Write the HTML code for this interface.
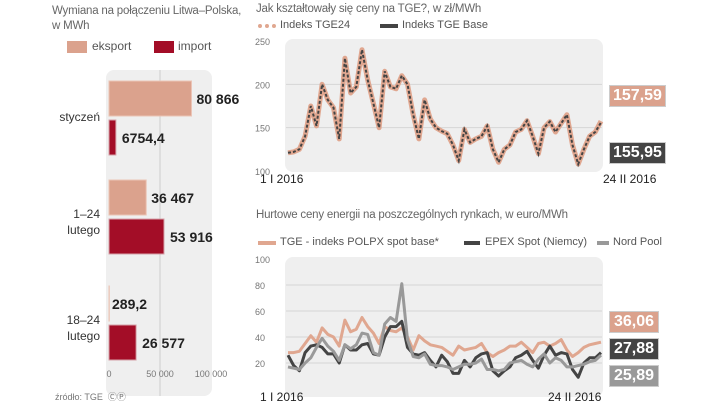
<!DOCTYPE html>
<html><head><meta charset="utf-8"><style>
body{margin:0;width:720px;height:406px;background:#fff;font-family:"Liberation Sans",sans-serif;overflow:hidden;position:relative}
.t{position:absolute;white-space:nowrap;color:#555}
svg{position:absolute;left:0;top:0}
</style></head><body>
<svg width="720" height="406" id="s"></svg>
<script>
const barCats=["styczeń","1–24\nlutego","18–24\nlutego"];
const exportVals=[80866,36467,289.2];
const importVals=[6754.4,53916,26577];
const exportLbl=["80 866","36 467","289,2"];
const importLbl=["6754,4","53 916","26 577"];
const tge24=[121,122,125,140,175,152,200,182,173,137,230,190,197,240,205,178,150,215,197,195,210,200,165,137,182,160,150,146,143,130,112,148,133,137,140,152,125,110,125,130,145,148,158,140,120,150,157,145,155,165,130,108,125,140,145,157.6];
const tgeBase=[121,122,125,140,175,152,200,182,173,137,230,190,197,240,205,178,150,215,197,195,210,200,165,137,182,160,150,146,143,130,112,148,133,137,140,152,125,110,125,130,145,148,158,140,120,150,157,145,155,165,130,108,125,140,145,156];
const topTicks=[100,150,200,250];
const polpx=[28,28,29,35,41,36,47,42,40,33,53,44,46,55,48,43,35,48,45,44,47,40,30,41,37,34,33,32,29,26,33,30,31,32,35,28,25,28,30,33,33,36,32,28,35,36,33,35,38,30,25,28,32,34,35,36];
const epex=[26,18,14,28,33,34,32,27,27,20,34,30,30,34,35,27,26,40,48,48,52,32,27,26,28,22,17,26,21,12,12,22,17,24,27,28,14,10,14,17,24,26,29,22,16,26,33,26,28,27,15,9,20,24,24,28];
const nord=[17,16,15,20,24,32,39,33,29,22,34,31,34,43,42,28,26,50,55,52,81,38,25,24,27,19,18,18,17,15,17,19,19,20,23,15,15,14,15,20,21,22,19,17,23,27,20,24,22,17,17,18,19,21,22,26];
const botTicks=[0,20,40,60,80,100];
const NS="http://www.w3.org/2000/svg",s=document.getElementById('s');
function el(t,a,txt){const e=document.createElementNS(NS,t);for(const k in a)e.setAttribute(k,a[k]);if(txt!==undefined)e.textContent=txt;s.appendChild(e);return e;}
const bx=v=>109+v*102/100000;
let e=el('rect',{x:106,y:70,width:106,height:326,rx:8,fill:'#efefef'});

el('line',{x1:160,y1:70,x2:160,y2:396,stroke:'#ccc'});
const groupY=[81,180,286];
barCats.forEach((c,i)=>{
 const y0=groupY[i];
 let r=el('rect',{x:109,y:y0,width:bx(exportVals[i])-109,height:35,fill:'#dba28d',stroke:'#ebc4b5'});
 
 r=el('rect',{x:109,y:y0+39,width:Math.max(bx(importVals[i])-109,2),height:35,fill:'#a30d27',stroke:'#d6a2a8'});
 
 const ex=i==2?112:bx(exportVals[i])+5;
 el('text',{x:ex,y:y0+23,'font-size':14,'font-weight':'bold',fill:'#222'},exportLbl[i]);
 el('text',{x:Math.max(bx(importVals[i]),113)+6,y:y0+62,'font-size':14,'font-weight':'bold',fill:'#222'},importLbl[i]);
 const ls=c.split('\n');
 ls.forEach((l,j)=>el('text',{x:100,y:y0+(ls.length==1?40:46)+j*16-(ls.length-1)*8,'font-size':12,fill:'#333','text-anchor':'end'},l));
});
[[0,'0'],[50000,'50 000'],[100000,'100 000']].forEach(([v,l])=>el('text',{x:bx(v),y:377,'font-size':9,fill:'#777','text-anchor':'middle'},l));
const X=(i,n)=>288+i*(313/(n-1));
const ty=v=>171-(v-100)*130/150;
e=el('rect',{x:285,y:39,width:318,height:133,rx:8,fill:'#efefef'});

topTicks.forEach(v=>{if(v>100&&v<250)el('line',{x1:286,x2:602,y1:ty(v),y2:ty(v),stroke:'#d6d6d6'});el('text',{x:255,y:ty(v)+4,'font-size':9,fill:'#777'},v);});
const path=(arr,fy)=>arr.map((v,i)=>(i?'L':'M')+X(i,arr.length).toFixed(1)+' '+fy(v).toFixed(1)).join(' ');
e=el('path',{d:path(tge24,ty),fill:'none',stroke:'#e0a790',"stroke-width":5,"stroke-linejoin":'round'});

e=el('path',{d:path(tgeBase,ty),fill:'none',stroke:'#444',"stroke-width":2,"stroke-dasharray":'3 2'});

const by=v=>389-v*1.3;
e=el('rect',{x:285,y:257,width:318,height:140,rx:8,fill:'#efefef'});

botTicks.forEach(v=>{if(v>0&&v<100)el('line',{x1:286,x2:602,y1:by(v),y2:by(v),stroke:'#d6d6d6'});if(v>0)el('text',{x:255,y:by(v)+4,'font-size':9,fill:'#777'},v);});
[[polpx,'#e0a790','line-polpx'],[epex,'#444','line-epex'],[nord,'#999','line-nord-pool']].forEach(([a,c,n])=>{
 const p=el('path',{d:path(a,by),fill:'none',stroke:c,"stroke-width":3,"stroke-linejoin":'round'});
 
});
</script>
<div class="t" style="left:52px;top:4px;font-size:11.5px;line-height:15px;color:#666;letter-spacing:-0.2px">Wymiana na połączeniu Litwa–Polska,<br>w MWh</div>
<div style="position:absolute;left:67px;top:41px;width:20px;height:12px;background:#dba28d"></div>
<div class="t" style="left:92px;top:39px;font-size:12px">eksport</div>
<div style="position:absolute;left:154px;top:41px;width:20px;height:12px;background:#a30d27"></div>
<div class="t" style="left:178px;top:39px;font-size:12px">import</div>
<div class="t" style="left:55px;top:390px;font-size:9px;color:#777">źródło: TGE &nbsp;ⒸⓅ</div>
<div class="t" style="left:256px;top:3px;font-size:11.5px;color:#666;letter-spacing:-0.2px">Jak kształtowały się ceny na TGE?, w zł/MWh</div>
<div style="position:absolute;left:258px;top:24px;width:18px;border-top:4px dotted #e0a790"></div>
<div class="t" style="left:280px;top:19px;font-size:11px">Indeks TGE24</div>
<div style="position:absolute;left:380px;top:24px;width:18px;height:4px;background:#444"></div>
<div class="t" style="left:402px;top:19px;font-size:11px">Indeks TGE Base</div>
<div class="t" style="left:260px;top:172px;font-size:12px;color:#222">1 I 2016</div>
<div class="t" style="left:603px;top:172px;font-size:12px;color:#222">24 II 2016</div>
<div class="t" style="left:609px;top:85px;font-size:16px;font-weight:bold;color:#fff;background:#dba28d;padding:1px 3px;border:1px solid #ccc">157,59</div>
<div class="t" style="left:609px;top:142px;font-size:16px;font-weight:bold;color:#fff;background:#444;padding:1px 3px;border:1px solid #ccc">155,95</div>
<div class="t" style="left:256px;top:209px;font-size:11.5px;color:#666;letter-spacing:-0.2px">Hurtowe ceny energii na poszczególnych rynkach, w euro/MWh</div>
<div style="position:absolute;left:258px;top:241px;width:18px;height:4px;background:#e0a790"></div>
<div class="t" style="left:280px;top:236px;font-size:11px">TGE - indeks POLPX spot base*</div>
<div style="position:absolute;left:464px;top:241px;width:16px;height:4px;background:#444"></div>
<div class="t" style="left:485px;top:236px;font-size:11px">EPEX Spot (Niemcy)</div>
<div style="position:absolute;left:597px;top:241px;width:12px;height:4px;background:#999"></div>
<div class="t" style="left:613px;top:236px;font-size:11px">Nord Pool</div>
<div class="t" style="left:260px;top:390px;font-size:12px;color:#222">1 I 2016</div>
<div class="t" style="left:548px;top:390px;font-size:12px;color:#222">24 II 2016</div>
<div class="t" style="left:609px;top:311px;font-size:16px;font-weight:bold;color:#fff;background:#dba28d;padding:1px 4px;border:1px solid #ccc">36,06</div>
<div class="t" style="left:609px;top:338px;font-size:16px;font-weight:bold;color:#fff;background:#444;padding:1px 4px;border:1px solid #ccc">27,88</div>
<div class="t" style="left:609px;top:365px;font-size:16px;font-weight:bold;color:#fff;background:#999;padding:1px 4px;border:1px solid #ccc">25,89</div>
</body></html>
